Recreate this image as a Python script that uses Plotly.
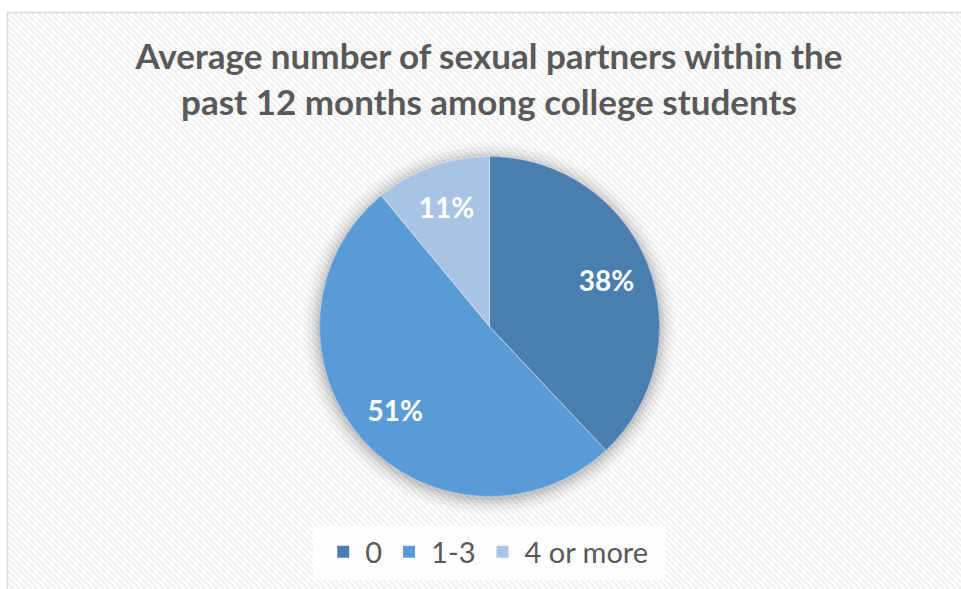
import base64
import plotly.graph_objects as go

title_text = "Average number of sexual partners within the<br>past 12 months among college students"
categories = ["0", "1-3", "4 or more"]
shares = [38, 51, 11]
colors = ["#4a7eb0", "#5b9bd5", "#a9c3e5"]

W, H = 961, 589
cx, cy, r = 489.5, 326.5, 170

svg = (
    '<svg xmlns="http://www.w3.org/2000/svg" width="961" height="589">'
    '<defs><pattern id="p" width="6" height="6" patternUnits="userSpaceOnUse">'
    '<rect width="6" height="6" fill="#ffffff"/>'
    '<path d="M-1,-1 L7,7 M-4,2 L2,8 M2,-4 L8,2" stroke="#efefef" stroke-width="1.6"/>'
    '</pattern></defs><rect width="961" height="589" fill="url(#p)"/></svg>'
)
src = "data:image/svg+xml;base64," + base64.b64encode(svg.encode()).decode()

dom = dict(x=[(cx - r) / W, (cx + r) / W], y=[(H - cy - r) / H, (H - cy + r) / H])
common = dict(labels=categories, values=shares, sort=False, direction="clockwise", rotation=0,
              domain=dom, hoverinfo="label+percent")

fig = go.Figure()
# base full pie (fills the centre)
fig.add_trace(go.Pie(**common, marker=dict(colors=colors, line=dict(width=0)),
                     textinfo="none", showlegend=True))
# ring pie carrying the percentage labels further out
fig.add_trace(go.Pie(**common, hole=0.48, marker=dict(colors=colors, line=dict(width=0)),
                     texttemplate="%{percent:.0%}", textposition="inside",
                     insidetextorientation="horizontal",
                     textfont=dict(family="Lato", size=28, color="white", weight="bold"),
                     showlegend=False))
# separator lines on top
fig.add_trace(go.Pie(**common, marker=dict(colors=["rgba(0,0,0,0)"] * 3,
                                           line=dict(color="rgba(255,255,255,0.35)", width=1)),
                     textinfo="none", showlegend=False))

shapes = [dict(type="rect", xref="paper", yref="paper", x0=7.5 / W, x1=1.02, y0=-0.02, y1=1 - 12.5 / H,
               line=dict(color="#d9d9d9", width=1.5), fillcolor="rgba(0,0,0,0)", layer="above")]
for grow, op in [(16, 0.025), (12, 0.035), (8, 0.045), (5, 0.055), (2, 0.07)]:
    rr = r + grow
    oy = 2
    shapes.append(dict(type="circle", xref="paper", yref="paper",
                       x0=(cx - rr) / W, x1=(cx + rr) / W,
                       y0=(H - cy - oy - rr) / H, y1=(H - cy - oy + rr) / H,
                       line=dict(width=0), fillcolor=f"rgba(0,0,0,{op})", layer="below"))
shapes.append(dict(type="rect", xref="paper", yref="paper", x0=313 / W, x1=665 / W,
                   y0=(H - 580) / H, y1=(H - 526) / H, line=dict(width=0),
                   fillcolor="rgba(255,255,255,0.85)", layer="below"))

fig.update_layout(
    width=W, height=H, margin=dict(l=0, r=0, t=0, b=0),
    paper_bgcolor="white",
    images=[dict(source=src, xref="paper", yref="paper", x=8 / W, y=1 - 13 / H, sizex=1, sizey=1,
                 xanchor="left", yanchor="top", sizing="stretch", layer="below")],
    shapes=shapes,
    title=dict(text=title_text, x=489 / W, xanchor="center", y=1 - 69 / H, yanchor="middle",
               font=dict(family="Lato", size=35, color="#595959", weight="bold")),
    showlegend=True,
    legend=dict(orientation="h", x=0.507, xanchor="center", y=(H - 552) / H, yanchor="middle",
                font=dict(family="Lato", size=29, color="#595959"), bgcolor="rgba(0,0,0,0)",
                itemwidth=34, traceorder="normal"),
)
fig.write_html("out.html")
